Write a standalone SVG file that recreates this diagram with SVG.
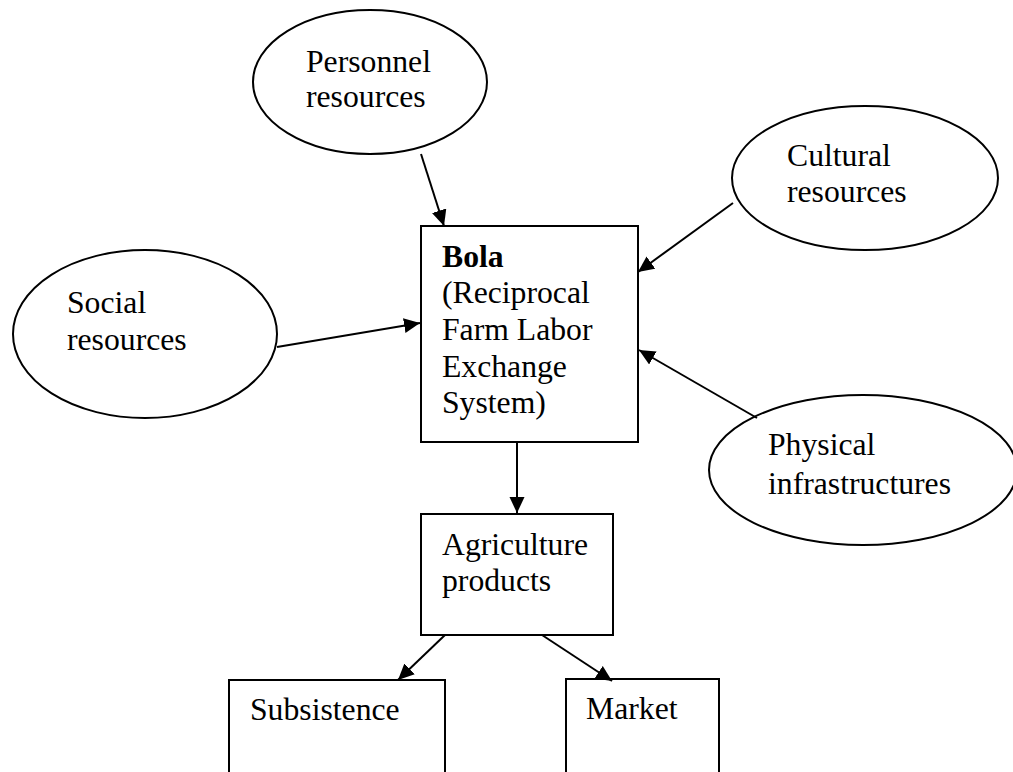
<svg xmlns="http://www.w3.org/2000/svg" width="1013" height="772" viewBox="0 0 1013 772">
<style>
.shape{fill:#fff;stroke:#000;stroke-width:2}
.t{font-family:"Liberation Serif","Times New Roman",serif;font-size:31.7px;fill:#000}
.b{font-weight:bold}
.c{stroke:#000;stroke-width:2;fill:none;marker-end:url(#ah)}
</style>
<defs>
<marker id="ah" markerUnits="userSpaceOnUse" markerWidth="17" markerHeight="16" refX="16" refY="7.5" orient="auto" viewBox="0 0 17 16">
<path d="M0,0 L16,7.5 L0,15 z" fill="#000"/>
</marker>
</defs>
<rect width="1013" height="772" fill="#fff"/>
<g id="personnel">
<ellipse class="shape" cx="370" cy="82" rx="117" ry="72"/>
<text class="t" x="306" y="72">Personnel</text>
<text class="t" x="306" y="107">resources</text>
</g>
<g id="cultural">
<ellipse class="shape" cx="865" cy="178" rx="133" ry="72"/>
<text class="t" x="787" y="166">Cultural</text>
<text class="t" x="787" y="202">resources</text>
</g>
<g id="social">
<ellipse class="shape" cx="145" cy="334" rx="132" ry="84"/>
<text class="t" x="67" y="313">Social</text>
<text class="t" x="67" y="350">resources</text>
</g>
<g id="physical">
<ellipse class="shape" cx="863" cy="470" rx="154" ry="75"/>
<text class="t" x="768" y="455">Physical</text>
<text class="t" x="768" y="494">infrastructures</text>
</g>
<g id="bola">
<rect class="shape" x="421" y="226" width="217" height="216"/>
<text class="t b" x="442" y="267">Bola</text>
<text class="t" x="442" y="303">(Reciprocal</text>
<text class="t" x="442" y="340">Farm Labor</text>
<text class="t" x="442" y="377">Exchange</text>
<text class="t" x="442" y="413">System)</text>
</g>
<g id="agriculture">
<rect class="shape" x="421" y="514" width="192" height="121"/>
<text class="t" x="442" y="555">Agriculture</text>
<text class="t" x="442" y="591">products</text>
</g>
<g id="subsistence">
<rect class="shape" x="229" y="680" width="216" height="120"/>
<text class="t" x="250" y="720">Subsistence</text>
</g>
<g id="market">
<rect class="shape" x="566" y="679" width="153" height="120"/>
<text class="t" x="586" y="719">Market</text>
</g>
<g id="connectors">
<line class="c" x1="421" y1="154" x2="444" y2="226"/>
<line class="c" x1="733" y1="203" x2="638" y2="272"/>
<line class="c" x1="277" y1="347" x2="420" y2="323"/>
<line class="c" x1="757" y1="418" x2="639" y2="350"/>
<line class="c" x1="517" y1="442" x2="517" y2="513"/>
<line class="c" x1="445" y1="635" x2="398" y2="680"/>
<line class="c" x1="542" y1="635" x2="612" y2="681"/>
</g>
</svg>
